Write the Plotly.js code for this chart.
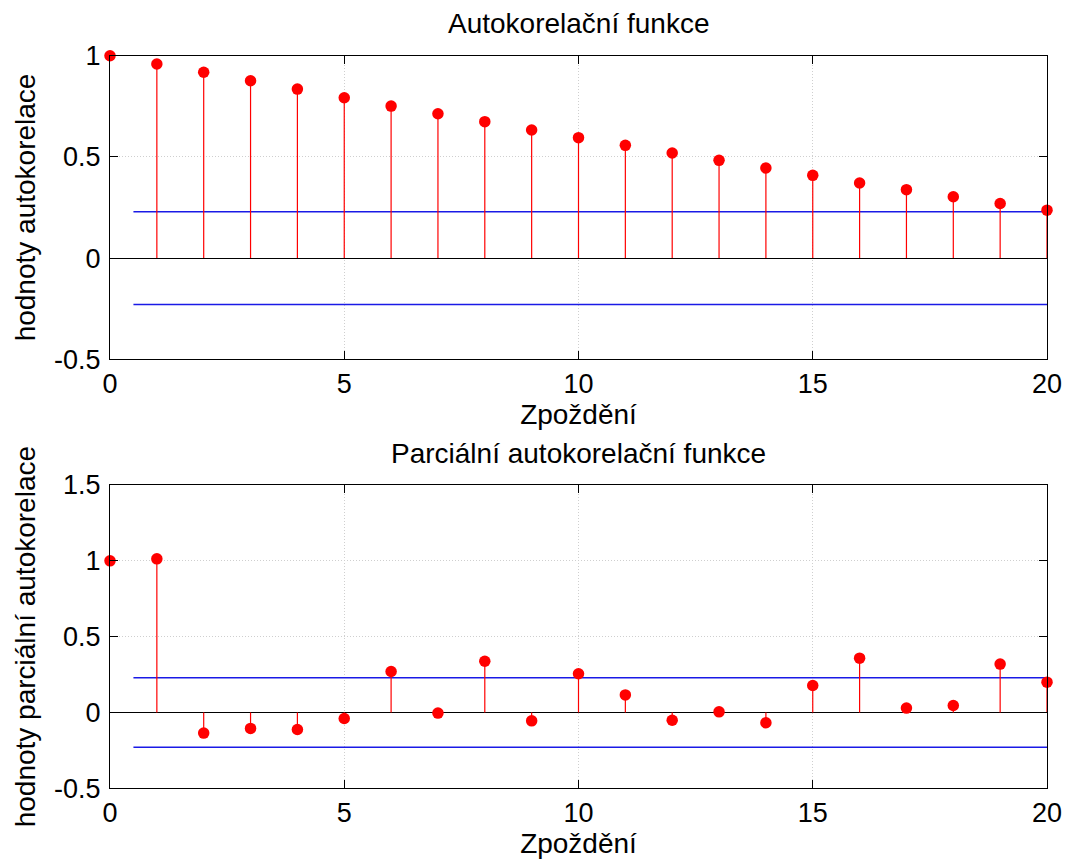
<!DOCTYPE html>
<html>
<head>
<meta charset="utf-8">
<script src="https://cdn.plot.ly/plotly-3.0.1.min.js"></script>
<style>html,body{margin:0;padding:0;background:#fff;}#chart{width:1068px;height:865px;}</style>
</head>
<body>
<div id="chart"></div>
<script>
// ---- data ----
const lags = [0,1,2,3,4,5,6,7,8,9,10,11,12,13,14,15,16,17,18,19,20];
const acfValues = [1.000,0.959,0.918,0.876,0.835,0.792,0.751,0.713,0.674,0.633,0.595,
                   0.557,0.519,0.483,0.445,0.409,0.371,0.338,0.303,0.270,0.237];
const pacfValues = [1.000,1.013,-0.136,-0.105,-0.112,-0.040,0.270,-0.004,0.338,-0.055,0.255,
                    0.116,-0.051,0.004,-0.068,0.178,0.358,0.029,0.046,0.319,0.200];
const confBound = 0.229;
const confStart = 0.5;
const confEnd = 20;
const titles = ["Autokorelační funkce", "Parciální autokorelační funkce"];
const yTitles = ["hodnoty autokorelace", "hodnoty parciální autokorelace"];
const xTitle = "Zpoždění";
const xTicks = [0,5,10,15,20];
const yTicksTop = [-0.5,0,0.5,1];
const yTickLabelsTop = ["-0.5","0","0.5","1"];
const yTicksBottom = [-0.5,0,0.5,1,1.5];
const yTickLabelsBottom = ["-0.5","0","0.5","1","1.5"];

// ---- build ----
const RED = '#ff0000', BLUE = '#1a1ae6';
const FONT = 'Liberation Sans, Arial, sans-serif';
const TICK_SIZE = 27, TITLE_SIZE = 28;

function stems(vals, xa, ya) {
  // the lag-0 stem lies on the left frame line (hidden behind it in the original)
  const x = [], y = [];
  lags.forEach((k, i) => { if (k > 0) { x.push(k, k, null); y.push(0, vals[i], null); } });
  return {x, y, xaxis: xa, yaxis: ya, mode: 'lines', type: 'scatter',
          line: {color: RED, width: 1.2}, hoverinfo: 'skip', cliponaxis: true};
}
function dots(vals, xa, ya) {
  return {x: lags, y: vals, xaxis: xa, yaxis: ya, mode: 'markers', type: 'scatter',
          marker: {color: RED, size: 11.5}, cliponaxis: false};
}
function conf(sign, xa, ya) {
  return {x: [confStart, confEnd], y: [sign*confBound, sign*confBound], xaxis: xa, yaxis: ya,
          mode: 'lines', type: 'scatter', line: {color: BLUE, width: 1.5}, hoverinfo: 'skip'};
}

const data = [
  conf(1,'x','y'), conf(-1,'x','y'), stems(acfValues,'x','y'), dots(acfValues,'x','y'),
  conf(1,'x2','y2'), conf(-1,'x2','y2'), stems(pacfValues,'x2','y2'), dots(pacfValues,'x2','y2')
];

const common = {
  ticks: 'inside', ticklen: 8, tickcolor: '#000', mirror: 'ticks', showline: true,
  linecolor: '#000', linewidth: 1, showgrid: true, gridcolor: '#cfcfcf', griddash: '1px,2px',
  gridwidth: 1, layer: 'above traces', tickfont: {size: TICK_SIZE, color: '#000', family: FONT}
};
function xax(anchor) {
  return Object.assign({}, common, {anchor, domain: [0, 1], range: [0, 20], tickvals: xTicks,
    zeroline: false, ticklabelstandoff: 0,
    title: {text: xTitle, font: {size: TITLE_SIZE, color: '#000', family: FONT}, standoff: 2}});
}
function yax(anchor, dom, rng, tv, tt, ttl) {
  return Object.assign({}, common, {anchor, domain: dom, range: rng, tickvals: tv, ticktext: tt,
    zeroline: true, zerolinecolor: '#000', zerolinewidth: 1.2, ticklabelstandoff: 3,
    title: {text: ttl, font: {size: TITLE_SIZE, color: '#000', family: FONT}, standoff: 10}});
}

const layout = {
  width: 1068, height: 865, showlegend: false,
  paper_bgcolor: '#fff', plot_bgcolor: '#fff',
  margin: {l: 110, r: 21, t: 0, b: 0},
  font: {family: FONT, color: '#000'},
  xaxis: xax('y'),
  yaxis: yax('x', [1 - 359.3/865, 1 - 55.7/865], [-0.5, 1], yTicksTop, yTickLabelsTop, yTitles[0]),
  xaxis2: xax('y2'),
  yaxis2: yax('x2', [1 - 788.3/865, 1 - 485/865], [-0.5, 1.5], yTicksBottom, yTickLabelsBottom, yTitles[1]),
  annotations: [
    {text: titles[0], xref: 'paper', yref: 'paper', x: 0.5, y: 1 - 24/865, showarrow: false,
     font: {size: TITLE_SIZE, color: '#000', family: FONT}, xanchor: 'center', yanchor: 'middle'},
    {text: titles[1], xref: 'paper', yref: 'paper', x: 0.5, y: 1 - 453/865, showarrow: false,
     font: {size: TITLE_SIZE, color: '#000', family: FONT}, xanchor: 'center', yanchor: 'middle'}
  ]
};

Plotly.newPlot('chart', data, layout, {displayModeBar: false, staticPlot: true});
</script>
</body>
</html>
